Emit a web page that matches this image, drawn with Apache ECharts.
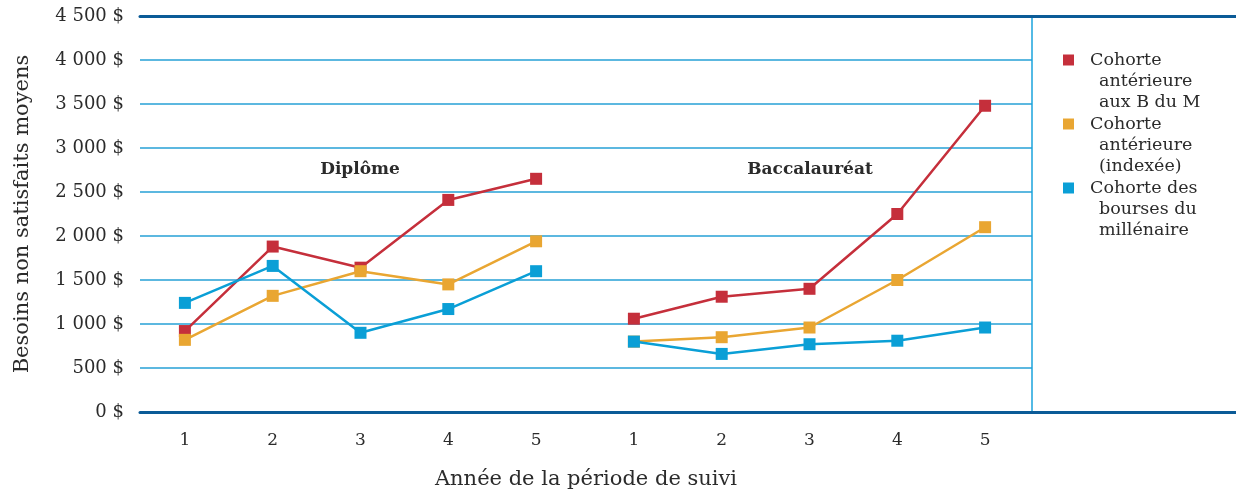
<!DOCTYPE html>
<html>
<head>
<meta charset="utf-8">
<script src="https://cdn.jsdelivr.net/npm/echarts@6/dist/echarts.min.js"></script>
<style>
  html, body { margin: 0; padding: 0; background: #ffffff; }
  #chart { width: 1236px; height: 495px; }
</style>
</head>
<body>
<div id="chart"></div>
<script>
// Years of follow-up (same for both groups)
const categories = ['1', '2', '3', '4', '5'];

// Series names
const seriesNames = [
  'Cohorte antérieure aux B du M',
  'Cohorte antérieure (indexée)',
  'Cohorte des bourses du millénaire'
];

// Diplôme
const diplomeAnterieure = [920, 1880, 1640, 2410, 2650];
const diplomeIndexee = [820, 1320, 1600, 1450, 1940];
const diplomeMillenaire = [1240, 1660, 900, 1170, 1600];

// Baccalauréat
const baccAnterieure = [1060, 1310, 1400, 2250, 3480];
const baccIndexee = [800, 850, 960, 1500, 2100];
const baccMillenaire = [800, 660, 770, 810, 960];

const groupTitles = ['Diplôme', 'Baccalauréat'];

const colors = ['#c52f3b', '#e9a632', '#0a9fd6'];
const font = 'DejaVu Serif';
const textColor = '#2b2b2b';

const Y_MIN = 0, Y_MAX = 4500, Y_STEP = 500;

function money(v) {
  const s = v >= 1000
    ? Math.floor(v / 1000) + ' ' + String(v % 1000).padStart(3, '0')
    : String(v);
  return s + ' $';
}

// Legend text with a hanging indent on continuation lines
const legendLines = {
  'Cohorte antérieure aux B du M': ['Cohorte', 'antérieure', 'aux B du M'],
  'Cohorte antérieure (indexée)': ['Cohorte', 'antérieure', '(indexée)'],
  'Cohorte des bourses du millénaire': ['Cohorte des', 'bourses du', 'millénaire']
};

const chart = echarts.init(document.getElementById('chart'), null, { renderer: 'canvas' });

const hiddenY = (gridIndex) => ({
  type: 'value', gridIndex, min: Y_MIN, max: Y_MAX, interval: Y_STEP,
  show: false
});

const groupX = (gridIndex) => ({
  type: 'category', gridIndex, data: categories, boundaryGap: true,
  axisLine: { show: false }, axisTick: { show: false },
  axisLabel: { fontFamily: font, fontSize: 17, color: textColor, margin: 20 },
  splitLine: { show: false }
});

function makeSeries(name, data, idx, axisIdx) {
  return {
    type: 'line', name, data,
    xAxisIndex: axisIdx, yAxisIndex: axisIdx - 1,
    symbol: 'rect', symbolSize: 12,
    lineStyle: { width: 2.5, color: colors[idx] },
    itemStyle: { color: colors[idx] },
    z: 3 + idx,
    silent: true, animation: false
  };
}

const plotBox = { top: 16, bottom: 83, outerBoundsMode: 'none', containLabel: false };

const option = {
  animation: false,
  backgroundColor: '#ffffff',
  title: [
    { text: groupTitles[0], left: 360, top: 161, textAlign: 'center', padding: 0,
      textStyle: { fontFamily: font, fontSize: 17, fontWeight: 'bold', color: textColor } },
    { text: groupTitles[1], left: 810, top: 161, textAlign: 'center', padding: 0,
      textStyle: { fontFamily: font, fontSize: 17, fontWeight: 'bold', color: textColor } }
  ],
  legend: {
    orient: 'vertical',
    left: 1063, top: 49,
    padding: 0,
    itemGap: 0,
    itemWidth: 22, itemHeight: 64,
    icon: 'path://M0,0 M20,58.2 M0,5H10V15H0Z',
    data: seriesNames,
    selectedMode: false,
    formatter: (name) => legendLines[name].map((l, i) => i === 0 ? '{a|' + l + '}' : '{b|' + l + '}').join('\n'),
    textStyle: {
      fontFamily: font, fontSize: 17.5, color: textColor, lineHeight: 21,
      rich: {
        a: { fontFamily: font, fontSize: 17.5, color: textColor, lineHeight: 21 },
        b: { fontFamily: font, fontSize: 17.5, color: textColor, lineHeight: 21, padding: [0, 0, 0, 9] }
      }
    }
  },
  grid: [
    // frame with dark top and bottom rules spanning to the right edge
    Object.assign({ left: 140, right: 0 }, plotBox),
    // value gridlines and y labels
    Object.assign({ left: 140, right: 204 }, plotBox),
    // Diplôme
    Object.assign({ left: 141, width: 439 }, plotBox),
    // Baccalauréat
    Object.assign({ left: 590, width: 439 }, plotBox)
  ],
  xAxis: [
    { type: 'value', gridIndex: 0, position: 'bottom', min: 0, max: 1,
      axisLine: { show: true, lineStyle: { color: '#0b5b97', width: 3 } },
      axisTick: { show: false }, axisLabel: { show: false }, splitLine: { show: false } },
    { type: 'value', gridIndex: 0, position: 'top', min: 0, max: 1,
      axisLine: { show: true, lineStyle: { color: '#0b5b97', width: 3 } },
      axisTick: { show: false }, axisLabel: { show: false }, splitLine: { show: false } },
    { type: 'value', gridIndex: 1, min: 0, max: 1,
      name: 'Année de la période de suivi', nameLocation: 'middle', nameGap: 57,
      nameTextStyle: { fontFamily: font, fontSize: 21, color: textColor },
      axisLine: { show: false }, axisTick: { show: false }, axisLabel: { show: false }, splitLine: { show: false } },
    groupX(2),
    groupX(3)
  ],
  yAxis: [
    hiddenY(0),
    { type: 'value', gridIndex: 1, min: Y_MIN, max: Y_MAX, interval: Y_STEP,
      name: 'Besoins non satisfaits moyens', nameLocation: 'middle', nameGap: 107,
      nameTextStyle: { fontFamily: font, fontSize: 21, color: textColor },
      axisLine: { show: false }, axisTick: { show: false },
      axisLabel: { formatter: money, fontFamily: font, fontSize: 18, color: textColor, margin: 16 },
      splitLine: { show: true, lineStyle: { color: '#5cb8e0', width: 2 } } },
    hiddenY(2),
    hiddenY(3),
    { type: 'value', gridIndex: 1, min: Y_MIN, max: Y_MAX, position: 'right',
      axisLine: { show: true, lineStyle: { color: '#1aa3dc', width: 1.5 } },
      axisTick: { show: false }, axisLabel: { show: false }, splitLine: { show: false } }
  ],
  // xAxis 3/4 and yAxis 2/3 belong to the Diplôme and Baccalauréat grids
  series: [
    makeSeries(seriesNames[0], diplomeAnterieure, 0, 3),
    makeSeries(seriesNames[1], diplomeIndexee, 1, 3),
    makeSeries(seriesNames[2], diplomeMillenaire, 2, 3),
    makeSeries(seriesNames[0], baccAnterieure, 0, 4),
    makeSeries(seriesNames[1], baccIndexee, 1, 4),
    makeSeries(seriesNames[2], baccMillenaire, 2, 4)
  ]
};

chart.setOption(option);
</script>
</body>
</html>
